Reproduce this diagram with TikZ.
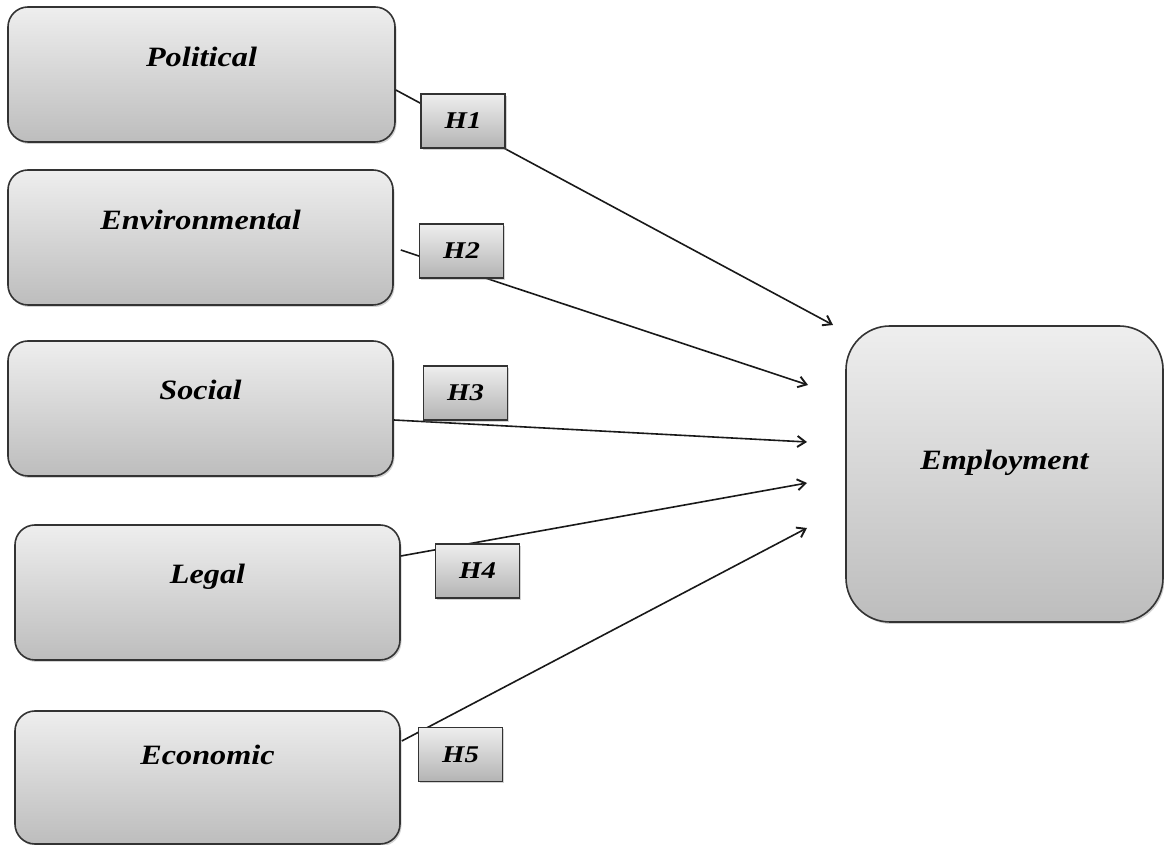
\documentclass[tikz,border=0pt]{standalone}
\usepackage{fontspec}
\setmainfont{Liberation Serif}
\newfontfamily\lblfont[FakeStretch=1.15]{Liberation Serif}
\newfontfamily\hypfont[FakeStretch=1.2]{Liberation Serif}
\usetikzlibrary{arrows.meta,shadows}
\definecolor{edge}{HTML}{333333}
\definecolor{filltop}{HTML}{EEEEEE}
\definecolor{fillbot}{HTML}{BDBDBD}
\tikzset{
  factor/.style={rounded corners=20pt, draw=edge, line width=1.6pt,
    top color=filltop, bottom color=fillbot, inner sep=0pt,
    drop shadow={shadow xshift=1.5pt, shadow yshift=-2pt, opacity=0.35},
    minimum width=386pt, minimum height=135pt},
  outcome/.style={factor, rounded corners=44pt,
    minimum width=317pt, minimum height=296pt},
  factext/.style={font=\lblfont\fontsize{28}{32}\selectfont\bfseries\itshape, text=black},
  hyp/.style={draw=edge, line width=1.4pt, top color=filltop, bottom color=fillbot!95!black,
    drop shadow={shadow xshift=1.5pt, shadow yshift=-2pt, opacity=0.35},
    minimum width=84pt, minimum height=54pt, inner sep=0pt,
    font=\hypfont\fontsize{24}{28}\selectfont\bfseries\itshape},
  link/.style={draw=black!90, line width=1.6pt,
    -{Straight Barb[length=8pt,width=11pt,line width=1.9pt]}}
}
\begin{document}
\begin{tikzpicture}[x=1pt,y=1pt]
\useasboundingbox (0,0) rectangle (1164,845);

% factor boxes
\node[factor, minimum width=387pt, label={[factext, yshift=17.5pt]center:Political}] (pol) at (201.5,770.5) {};
\node[factor, minimum width=385pt, label={[factext, yshift=17.5pt]center:Environmental}] (env) at (200.5,607.5) {};
\node[factor, minimum width=385pt, label={[factext, yshift=18.5pt]center:Social}] (soc) at (200.5,436.5) {};
\node[factor, minimum width=385pt, label={[factext, yshift=15.5pt]center:Legal}] (leg) at (207.5,252.5) {};
\node[factor, minimum width=385pt, minimum height=133pt, label={[factext, yshift=22.5pt]center:Economic}] (eco) at (207.5,67.5) {};

% outcome box
\node[outcome, label={[factext, yshift=11pt]center:Employment}] (emp) at (1004.5,371) {};

% arrow ends in front of the outcome box
\coordinate (t1) at (833,520);
\coordinate (t2) at (808,460);
\coordinate (t3) at (807,403);
\coordinate (t4) at (807,362);
\coordinate (t5) at (807,317);

% hypothesised paths
\draw[link] ([yshift=-15.5pt]pol.east) -- (t1);
\draw[link] ([xshift=7pt,yshift=-12.5pt]env.east) -- (t2);
\draw[link] ([yshift=-11.5pt]soc.east) -- (t3);
\draw[link] ([yshift=36.5pt]leg.east) -- (t4);
\draw[link] ([xshift=1pt,yshift=36.5pt]eco.east) -- (t5);

% hypothesis labels
\node[hyp] (h1) at (463,724) {H1};
\node[hyp] (h2) at (461.5,594) {H2};
\node[hyp] (h3) at (465.5,452) {H3};
\node[hyp] (h4) at (477.5,274) {H4};
\node[hyp] (h5) at (460.5,90.5) {H5};
\end{tikzpicture}
\end{document}
